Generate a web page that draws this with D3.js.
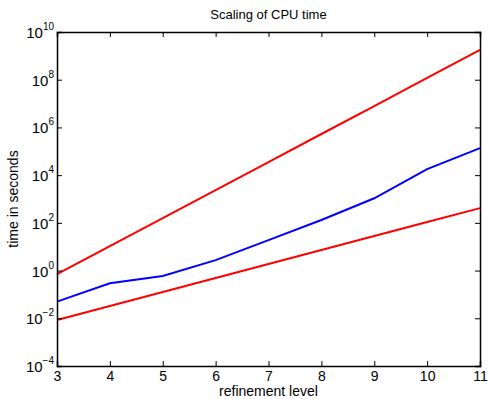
<!DOCTYPE html>
<html>
<head>
<meta charset="utf-8">
<script src="https://cdn.jsdelivr.net/npm/d3@7"></script>
<style>
  body { margin: 0; background: #fff; }
  text { font-family: "Liberation Sans", Arial, Helvetica, sans-serif; fill: #000; }
</style>
</head>
<body>
<div id="chart"></div>
<script>
// refinement levels
var levels = [3, 4, 5, 6, 7, 8, 9, 10, 11];
// upper bound (red), measured CPU time (blue), lower bound (red)
var upperBound = [0.71, 10.6, 158, 2370, 35500, 5.3e5, 7.9e6, 1.19e8, 1.78e9];
var cpuTime    = [0.050, 0.295, 0.59, 2.75, 19, 132, 1070, 17800, 135000];
var lowerBound = [0.0085, 0.0328, 0.126, 0.488, 1.88, 7.24, 27.9, 108, 415];
var yTickExps = [-4, -2, 0, 2, 4, 6, 8, 10];

var margin = {top: 32, right: 8, bottom: 33, left: 57},
    width = 488 - margin.left - margin.right,
    height = 399 - margin.top - margin.bottom;

var svg = d3.select("#chart")
            .append("svg")
            .attr("width", 488)
            .attr("height", 399)
            .append("g")
            .attr("transform", "translate(" + margin.left + "," + margin.top + ")");

var x = d3.scaleLinear()
          .domain([3, 11])
          .range([0, width]);

var y = d3.scaleLog()
          .domain([1e-4, 1e10])
          .range([height, 0]);

// data lines
var line = d3.line()
             .x(function (d) { return x(d[0]); })
             .y(function (d) { return y(d[1]); });

function addLine(vals, color) {
    svg.append("path")
       .datum(levels.map(function (l, i) { return [l, vals[i]]; }))
       .attr("d", line)
       .attr("fill", "none")
       .attr("stroke", color)
       .attr("stroke-width", 2);
}
addLine(upperBound, "#ff0000");
addLine(cpuTime, "#0000ff");
addLine(lowerBound, "#ff0000");

// axes: ticks pointing inward, mirrored on top/right
var yTicks = yTickExps.map(function (e) { return Math.pow(10, e); });

svg.append("g")
   .attr("transform", "translate(0," + height + ")")
   .call(d3.axisBottom(x).tickValues(levels).tickSize(-5).tickPadding(5).tickFormat(d3.format("d")))
   .call(function (g) { g.selectAll("text").style("font-size", "14px"); });

svg.append("g")
   .call(d3.axisTop(x).tickValues(levels).tickSize(-5).tickFormat(""));

svg.append("g")
   .call(d3.axisLeft(y).tickValues(yTicks).tickSize(-5).tickFormat(""));

svg.append("g")
   .attr("transform", "translate(" + width + ",0)")
   .call(d3.axisRight(y).tickValues(yTicks).tickSize(-5).tickFormat(""));

svg.selectAll(".domain").attr("stroke", "#000").attr("stroke-width", 1.5);
svg.selectAll(".tick line").attr("stroke", "#000").attr("stroke-width", 1);

// y tick labels 10^n with superscripts
yTickExps.forEach(function (e) {
    var t = svg.append("text")
       .attr("x", -3)
       .attr("y", y(Math.pow(10, e)) + 6)
       .attr("text-anchor", "end")
       .style("font-size", "15px");
    t.append("tspan").text("10");
    t.append("tspan")
     .attr("dy", -8)
     .style("font-size", "10px")
     .text(e < 0 ? "\u2212" + (-e) : e);
});

// title and axis labels
svg.append("text")
   .text("Scaling of CPU time")
   .attr("x", width / 2)
   .attr("y", -13)
   .attr("text-anchor", "middle")
   .style("font-size", "13px");

svg.append("text")
   .text("refinement level")
   .attr("x", width / 2)
   .attr("y", height + 30)
   .attr("text-anchor", "middle")
   .style("font-size", "14px");

svg.append("text")
   .text("time in seconds")
   .attr("transform", "rotate(-90)")
   .attr("x", -height / 2)
   .attr("y", -39)
   .attr("text-anchor", "middle")
   .style("font-size", "14px");
</script>
</body>
</html>
